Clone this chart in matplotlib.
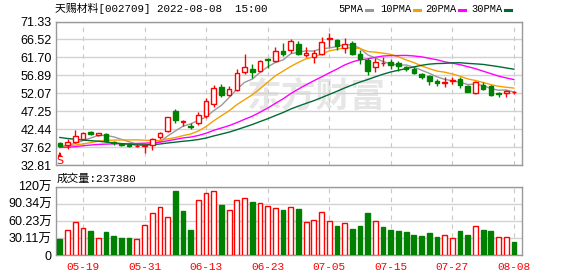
import numpy as np
import pandas as pd
import matplotlib
matplotlib.use("Agg")
import matplotlib.pyplot as plt
from matplotlib.lines import Line2D

RED = "#ff0000"
GREEN = "#008000"
MA_COLORS = ["#999999", "#f5a000", "#ff00ff", "#006b35"]
GRID = "#d2d2d2"
FRAME = "#999999"

# daily candles 天赐材料 002709, 2022-05-16 .. 2022-08-08
opens = [38.6, 38.1, 38.9, 39.9, 41.6, 40.95, 41.2, 39.0, 38.5, 38.3,
         37.8, 37.8, 38.3, 40.2, 42.0, 47.2, 44.4, 43.4, 44.0, 45.9,
         49.2, 53.7, 51.5, 53.0, 57.9, 58.6, 58.1, 61.2, 60.8, 63.5,
         63.7, 65.3, 62.3, 61.8, 62.6, 66.5, 66.3, 64.1, 65.5, 62.6,
         61.0, 59.2, 60.1, 60.5, 60.3, 59.2, 58.7, 57.3, 56.8, 55.4,
         54.7, 55.3, 55.8, 54.0, 52.2, 54.3, 54.0, 52.1, 52.2, 52.3]
highs = [38.9, 39.7, 42.1, 41.7, 42.0, 41.5, 41.5, 39.3, 38.8, 38.6,
         38.4, 38.3, 40.0, 41.8, 45.8, 47.8, 45.0, 44.0, 47.0, 50.8,
         54.2, 54.6, 54.0, 58.6, 62.6, 59.8, 61.0, 61.6, 64.4, 65.6,
         66.7, 66.2, 64.5, 63.6, 67.2, 68.2, 66.6, 67.0, 66.0, 63.6,
         61.4, 61.6, 61.8, 61.2, 60.7, 59.5, 59.0, 57.6, 57.0, 55.8,
         56.3, 56.3, 56.5, 54.2, 55.3, 55.2, 54.3, 52.5, 52.9, 52.8]
lows = [37.6, 37.0, 38.6, 39.7, 40.9, 40.7, 38.9, 38.2, 37.8, 37.6,
        37.7, 36.1, 36.9, 39.7, 41.8, 44.2, 43.4, 42.6, 43.5, 45.4,
        48.5, 51.0, 51.2, 52.6, 57.3, 56.1, 57.8, 58.8, 60.4, 62.2,
        62.8, 62.3, 61.8, 60.2, 62.3, 64.6, 63.8, 62.9, 62.3, 60.0,
        56.9, 57.8, 59.3, 58.6, 58.1, 58.1, 57.2, 56.0, 54.3, 54.0,
        53.8, 54.5, 53.5, 52.3, 52.0, 53.0, 51.4, 51.0, 51.1, 51.9]
closes = [37.8, 39.1, 40.6, 41.5, 41.2, 41.3, 39.2, 38.6, 38.2, 37.9,
          38.0, 38.2, 39.8, 41.3, 45.6, 44.8, 44.6, 42.9, 46.2, 49.9,
          53.5, 51.7, 53.3, 57.5, 59.0, 57.8, 60.6, 60.9, 63.3, 62.5,
          66.1, 62.6, 62.8, 62.9, 65.9, 66.8, 64.7, 65.2, 62.6, 61.3,
          58.1, 60.5, 60.3, 59.6, 59.4, 58.5, 57.5, 56.3, 55.4, 54.7,
          55.1, 55.6, 54.3, 52.4, 55.1, 53.3, 51.6, 52.0, 52.7, 52.4]
# closes of the 29 sessions before the window, only needed for the moving averages
closes_before = [47.5, 46.9, 47.8, 46.2, 45.5, 46.3, 44.8, 44.1, 43.6, 43.3,
                 38.2, 37.1, 36.5, 37.4, 38.0, 37.6, 36.9, 37.8, 38.3, 36.2,
                 36.8, 37.5, 38.4, 37.9, 37.2, 36.9, 38.1, 37.8, 37.8]
# volume in 万 shares
volumes = [29.2, 44.5, 58.1, 47.5, 42.8, 29.9, 41.0, 34.0, 30.5, 30.5,
           28.2, 52.8, 74.0, 84.5, 66.9, 113.2, 78.0, 44.5, 96.8, 109.2,
           112.7, 88.6, 79.8, 96.8, 100.4, 93.8, 91.6, 86.8, 82.8, 79.8,
           84.5, 81.5, 58.6, 62.2, 76.2, 60.4, 51.6, 56.3, 46.3, 51.6,
           74.5, 60.4, 49.8, 45.1, 42.8, 41.0, 35.7, 34.0, 39.3, 32.2,
           35.7, 30.5, 42.8, 35.7, 51.1, 44.5, 42.8, 31.7, 31.7, 23.738]

ma_windows = [5, 10, 20, 30]
ma_labels = ["5PMA", "10PMA", "20PMA", "30PMA"]
price_ticks = [32.81, 37.62, 42.44, 47.25, 52.07, 56.89, 61.70, 66.52, 71.33]
vol_ticks = [0, 30.11, 60.23, 90.34, 120.45]
vol_tick_labels = ["0", "30.11万", "60.23万", "90.34万", "120万"]

dates = pd.bdate_range("2022-05-16", "2022-08-08").drop(pd.Timestamp("2022-06-03"))

o = np.array(opens)
h = np.array(highs)
l = np.array(lows)
c = np.array(closes)
v = np.array(volumes)
x = np.arange(len(c))
n = len(c)

up = c >= o
prev = np.r_[o[0], c[:-1]]
vol_up = c > prev

all_close = pd.Series(closes_before + closes)
mas = [all_close.rolling(w).mean().iloc[len(closes_before):].values for w in ma_windows]

fig = plt.figure(figsize=(5.78, 2.76), dpi=100)
ax = fig.add_axes([56 / 578, 1 - 165 / 276, 466 / 578, 143.5 / 276])
axv = fig.add_axes([56 / 578, 1 - 255.3 / 276, 466 / 578, 68.6 / 276])

tick_pos = list(range(3, n, 8))
tick_labels = [d.strftime("%m-%d") for d in dates[3::8]]

for a in (ax, axv):
    a.set_xlim(-0.5, n + 0.05)
    a.set_xticks(tick_pos)
    a.tick_params(length=0)
    a.xaxis.grid(True, color="#c8c8c8", lw=0.8, ls=(0, (4, 4)))
    a.yaxis.grid(True, color=GRID, lw=1)
    a.set_axisbelow(True)
    for s in a.spines.values():
        s.set_color(FRAME)
        s.set_linewidth(1)

# watermark
ax.text(0.56, 0.48, "东方财富", transform=ax.transAxes, fontsize=25, color="#e6e6e6",
        family="Noto Sans CJK SC", weight="bold", ha="center", va="center", zorder=0.1)

# moving averages
for ma, col in zip(mas, MA_COLORS):
    ax.plot(x, ma, color=col, lw=1, zorder=2)

# candles
cols = np.where(up, RED, GREEN)
ax.vlines(x, l, h, colors=cols, lw=1, zorder=3)
body_lo = np.minimum(o, c)
body_h = np.maximum(np.abs(c - o), 0.06)
ax.bar(x, body_h, bottom=body_lo, width=0.6, color=np.where(up, "white", GREEN),
       edgecolor=cols, lw=1, zorder=4)

# buy marker under the first candle
ax.annotate("", xy=(0, 36.3), xytext=(0, 35.1),
            arrowprops=dict(arrowstyle="-|>", color=RED, lw=1, mutation_scale=5))
ax.text(0, 33.9, "S", color=RED, fontsize=8, ha="center", va="center")

ax.set_ylim(price_ticks[0], price_ticks[-1])
ax.set_yticks(price_ticks)
ax.set_yticklabels([f"{t:.2f}" for t in price_ticks], family="Liberation Sans", fontsize=9)
ax.tick_params(axis="y", pad=3)
ax.set_xticklabels([])

# volume
vcols = np.where(vol_up, RED, GREEN)
axv.bar(x, v, width=0.62, color=np.where(vol_up, "white", GREEN), edgecolor=vcols, lw=1, zorder=3)
axv.set_ylim(0, vol_ticks[-1])
axv.set_yticks(vol_ticks)
axv.set_yticklabels(vol_tick_labels, family=["Liberation Sans", "Noto Sans CJK SC"], fontsize=9)
axv.tick_params(axis="y", pad=3)
axv.set_xticklabels(tick_labels, color=RED, family="Liberation Mono", fontsize=8)
axv.tick_params(axis="x", pad=5)

# header texts
mono_cjk = ["Liberation Mono", "Noto Sans CJK SC"]
fig.text(55 / 578, 1 - 8.5 / 276, "天赐材料[002709] 2022-08-08  15:00", family=mono_cjk,
         fontsize=7.8, va="center")
fig.text(57 / 578, 1 - 178.5 / 276, f"成交量:{int(round(volumes[-1] * 10000))}", family=mono_cjk,
         fontsize=8, va="center")

# legend
leg_x = [338, 380, 425, 471]
for lbl, col, lx in zip(ma_labels, MA_COLORS, leg_x):
    t = fig.text(lx / 578, 1 - 8.5 / 276, lbl, family="Liberation Mono", fontsize=7.5, va="center")
    dx = (lx + 6.2 * len(lbl) + 3) / 578
    fig.add_artist(Line2D([dx, dx + 6 / 578], [1 - 10 / 276] * 2, color=col, lw=2.2,
                          transform=fig.transFigure))

fig.savefig("out.png", dpi=100)
